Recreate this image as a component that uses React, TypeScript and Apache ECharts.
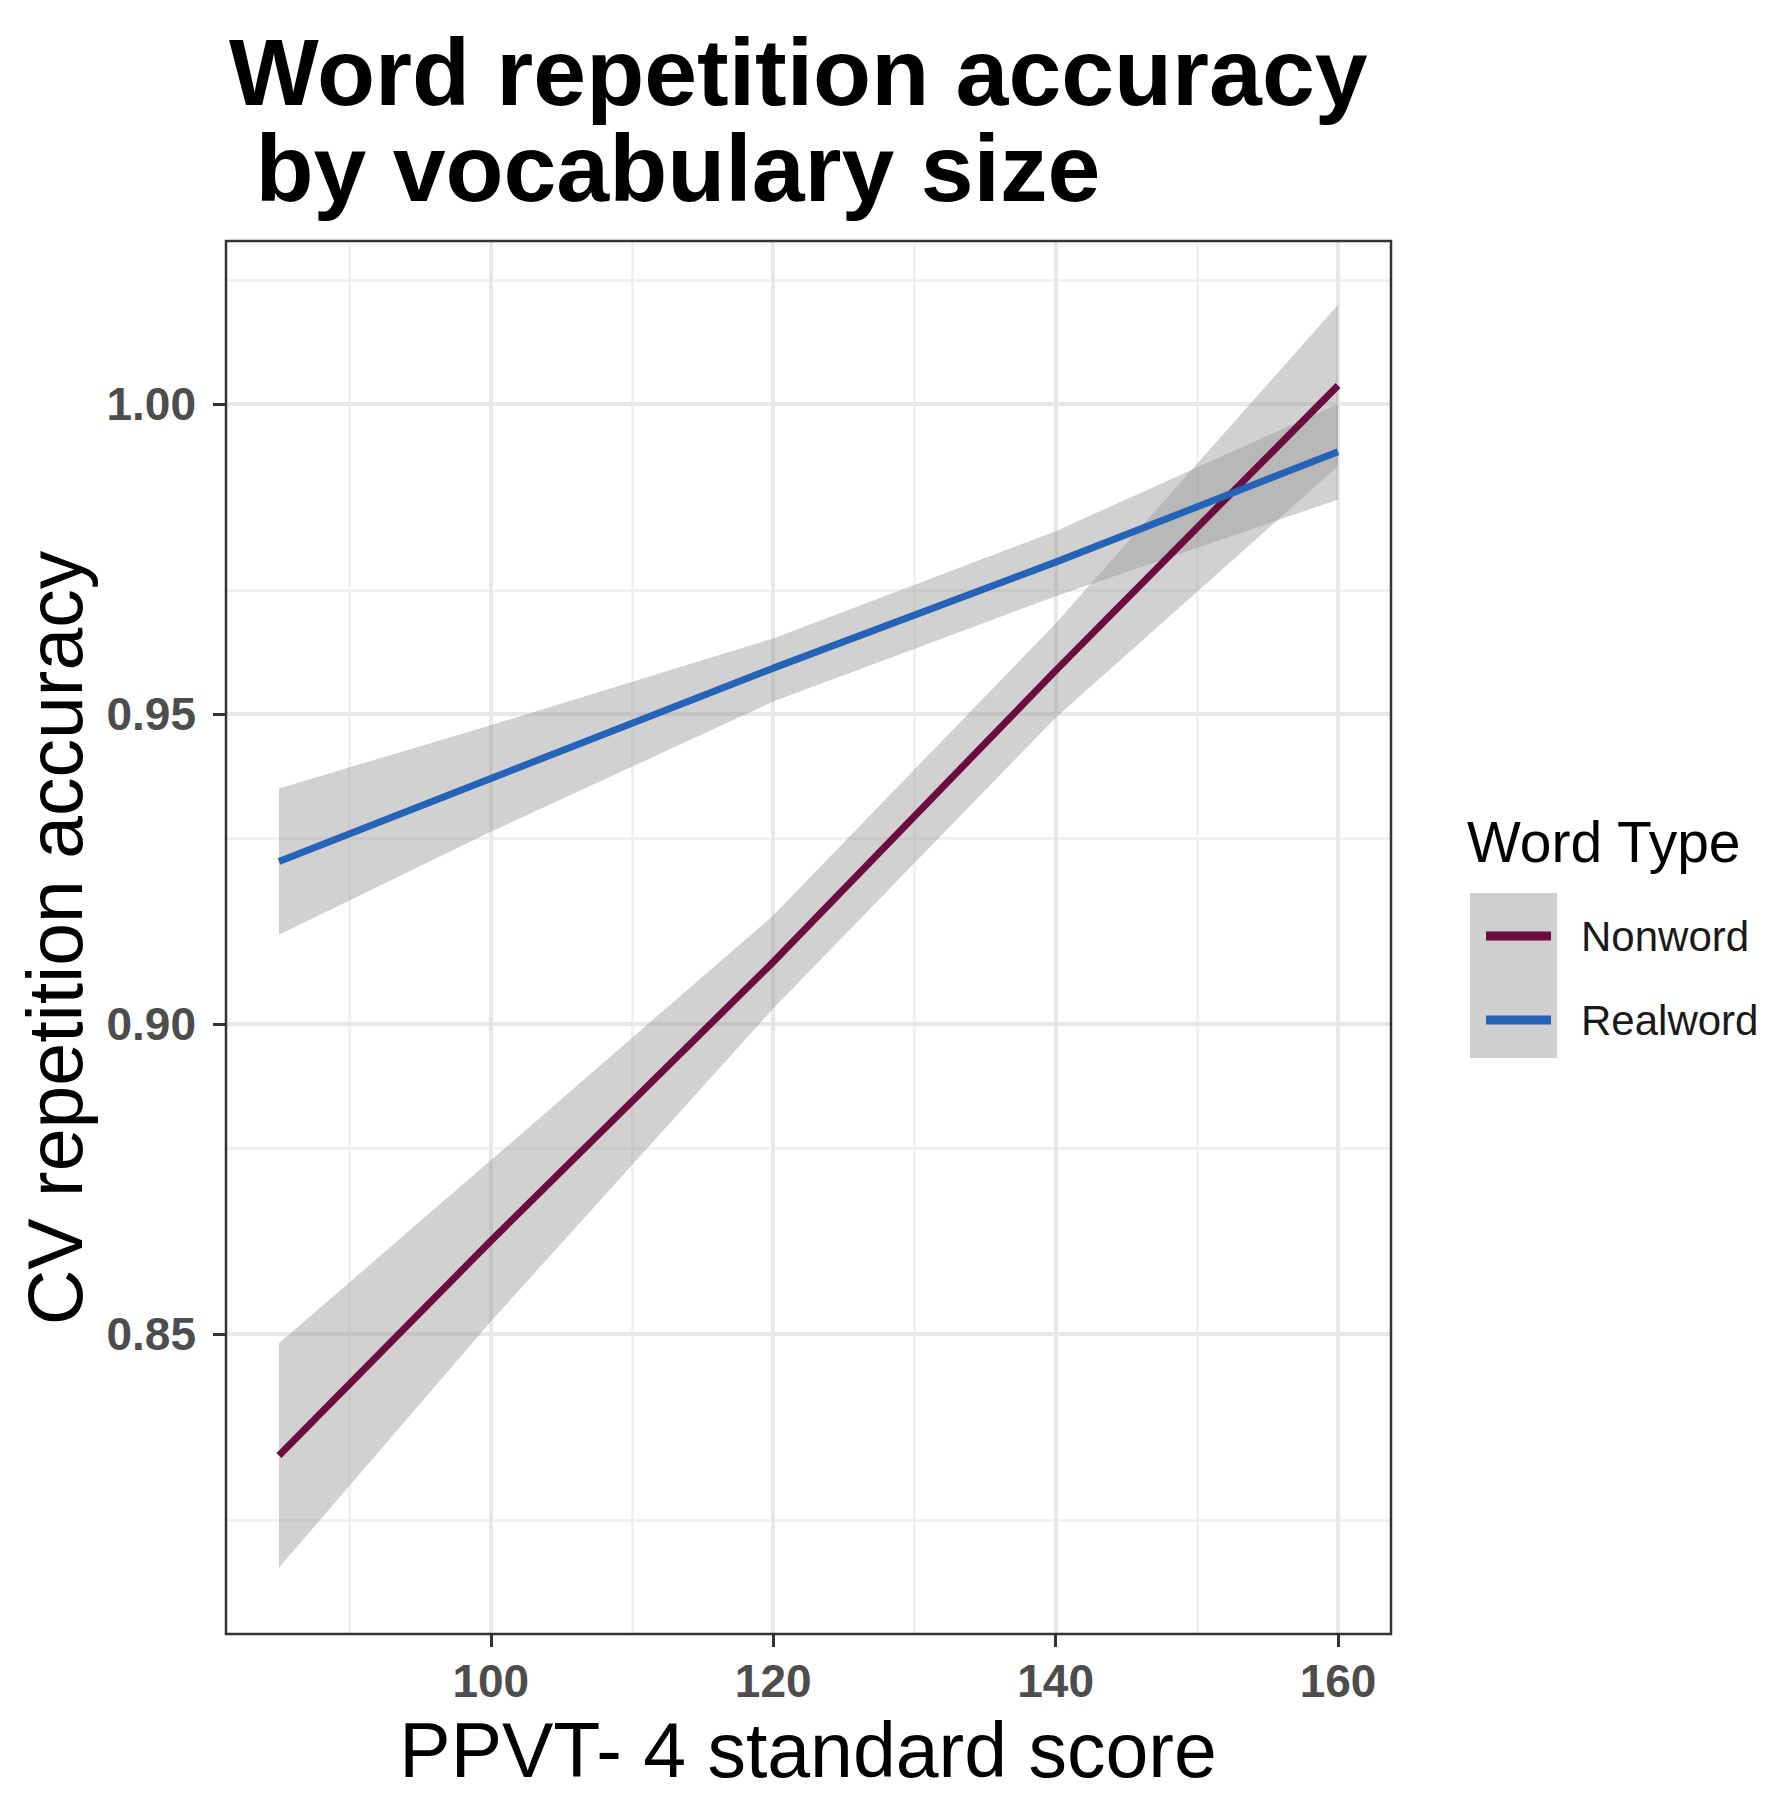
import React, { useEffect, useRef } from "react";
import * as echarts from "echarts";

// ---- data ----
const xPoints = [85, 100, 120, 140, 160];

const nonwordFit = [0.8304, 0.865, 0.910, 0.957, 1.003];
const nonwordLower = [0.8123, 0.852, 0.9025, 0.9494, 0.990];
const nonwordUpper = [0.8485, 0.878, 0.9175, 0.9646, 1.016];

const realwordFit = [0.9262, 0.9396, 0.9574, 0.9745, 0.9923];
const realwordLower = [0.9144, 0.9310, 0.9520, 0.9690, 0.9846];
const realwordUpper = [0.9380, 0.9482, 0.9622, 0.9795, 1.0000];

const xTicks = [100, 120, 140, 160];
const xMinor = [90, 110, 130, 150];
const yTicks = [0.85, 0.9, 0.95, 1.0];
const yMinor = [0.825, 0.875, 0.925, 0.975, 1.025];

const xRange = [81.25, 163.75];
const yRange = [0.8016, 1.0263];

const seriesNames = ["Nonword", "Realword"];
const seriesColors = ["#6b0d3f", "#2563b8"];

const FONT = "'Liberation Sans', Arial, Helvetica, sans-serif";

export default function App() {
  const ref = useRef<HTMLDivElement>(null);

  useEffect(() => {
    document.body.style.margin = "0";
    document.body.style.overflow = "hidden";
    if (!ref.current) return;
    const chart = echarts.init(ref.current, undefined, { renderer: "svg" });

    const pairs = (ys: number[]) => xPoints.map((x, i) => [x, ys[i]]);

    const bandFill = "rgba(153,153,153,0.45)";

    const bandSeries = (name: string, lo: number[], hi: number[]) => ({
      name: name + " band",
      type: "custom",
      silent: true,
      z: 2,
      clip: true,
      data: [[xPoints[0], lo[0]]],
      renderItem: (params: any, api: any) => {
        if (params.dataIndex !== 0) return null;
        const upper = xPoints.map((x, i) => api.coord([x, hi[i]]));
        const lower = xPoints.map((x, i) => api.coord([x, lo[i]])).reverse();
        return {
          type: "polygon",
          shape: { points: [...upper, ...lower] },
          style: { fill: bandFill, stroke: "none" },
          silent: true,
        };
      },
    });

    const majorGrid = { color: "#e8e8e8", width: 4, type: "solid" };
    const minorGrid = { color: "#efefef", width: 2.5, type: "solid" };

    chart.setOption({
      animation: false,
      backgroundColor: "#ffffff",
      title: {
        text: "Word repetition accuracy\n by vocabulary size",
        left: 224,
        top: 19,
        textStyle: {
          fontFamily: FONT,
          fontSize: 95,
          fontWeight: "bold",
          color: "#000000",
          lineHeight: 96,
        },
      },
      grid: {
        left: 226,
        right: 381,
        top: 241,
        bottom: 166,
        show: true,
        z: 10,
        backgroundColor: "transparent",
        borderColor: "#333333",
        borderWidth: 2.5,
      },
      xAxis: {
        type: "value",
        min: xRange[0],
        max: xRange[1],
        axisLine: { show: false },
        splitLine: { show: false },
        axisTick: {
          show: true,
          customValues: xTicks,
          length: 13,
          lineStyle: { color: "#333333", width: 3 },
        },
        axisLabel: {
          customValues: xTicks,
          formatter: (v: number) => String(v),
          fontFamily: FONT,
          fontSize: 46,
          fontWeight: "bold",
          color: "#4d4d4d",
          margin: 24,
        },
      },
      yAxis: {
        type: "value",
        min: yRange[0],
        max: yRange[1],
        axisLine: { show: false },
        splitLine: { show: false },
        axisTick: {
          show: true,
          customValues: yTicks,
          length: 13,
          lineStyle: { color: "#333333", width: 3 },
        },
        axisLabel: {
          customValues: yTicks,
          formatter: (v: number) => v.toFixed(2),
          fontFamily: FONT,
          fontSize: 46,
          fontWeight: "bold",
          color: "#4d4d4d",
          margin: 30,
        },
      },
      legend: {
        data: seriesNames,
        orient: "vertical",
        left: 1481,
        top: 910,
        itemWidth: 65,
        itemHeight: 9,
        itemGap: 42,
        icon: "rect",
        selectedMode: false,
        textStyle: {
          fontFamily: FONT,
          fontSize: 42,
          color: "#1a1a1a",
          padding: [0, 0, 0, 25],
        },
      },
      graphic: [
        {
          type: "text",
          x: 55,
          y: 938,
          rotation: Math.PI / 2,
          style: {
            text: "CV repetition accuracy",
            fontFamily: FONT,
            fontSize: 77,
            fill: "#000000",
            textAlign: "center",
            textVerticalAlign: "middle",
          },
        },
        {
          type: "text",
          x: 808,
          y: 1750,
          style: {
            text: "PPVT- 4 standard score",
            fontFamily: FONT,
            fontSize: 77,
            fill: "#000000",
            textAlign: "center",
            textVerticalAlign: "middle",
          },
        },
        {
          type: "text",
          x: 1467,
          y: 842,
          style: {
            text: "Word Type",
            fontFamily: FONT,
            fontSize: 57,
            fill: "#000000",
            textAlign: "left",
            textVerticalAlign: "middle",
          },
        },
        {
          type: "rect",
          z: 1,
          shape: { x: 1470, y: 893, width: 87, height: 165 },
          style: { fill: "#cfcfcf" },
        },
      ],
      series: [
        {
          name: "grid",
          type: "line",
          data: [[xRange[0], yRange[0]]],
          symbol: "none",
          lineStyle: { opacity: 0 },
          silent: true,
          z: 1,
          markLine: {
            silent: true,
            z: 1,
            symbol: ["none", "none"],
            label: { show: false },
            animation: false,
            data: [
              ...xMinor.map((v) => ({ xAxis: v, lineStyle: minorGrid })),
              ...yMinor.map((v) => ({ yAxis: v, lineStyle: minorGrid })),
              ...xTicks.map((v) => ({ xAxis: v, lineStyle: majorGrid })),
              ...yTicks.map((v) => ({ yAxis: v, lineStyle: majorGrid })),
            ],
          },
        },
        bandSeries("Nonword", nonwordLower, nonwordUpper),
        bandSeries("Realword", realwordLower, realwordUpper),
        {
          name: seriesNames[0],
          type: "line",
          data: pairs(nonwordFit),
          symbol: "none",
          color: seriesColors[0],
          lineStyle: { color: seriesColors[0], width: 7 },
          z: 3,
        },
        {
          name: seriesNames[1],
          type: "line",
          data: pairs(realwordFit),
          symbol: "none",
          color: seriesColors[1],
          lineStyle: { color: seriesColors[1], width: 7 },
          z: 3,
        },
      ],
    });

    return () => chart.dispose();
  }, []);

  return <div ref={ref} style={{ width: 1772, height: 1800 }} />;
}
